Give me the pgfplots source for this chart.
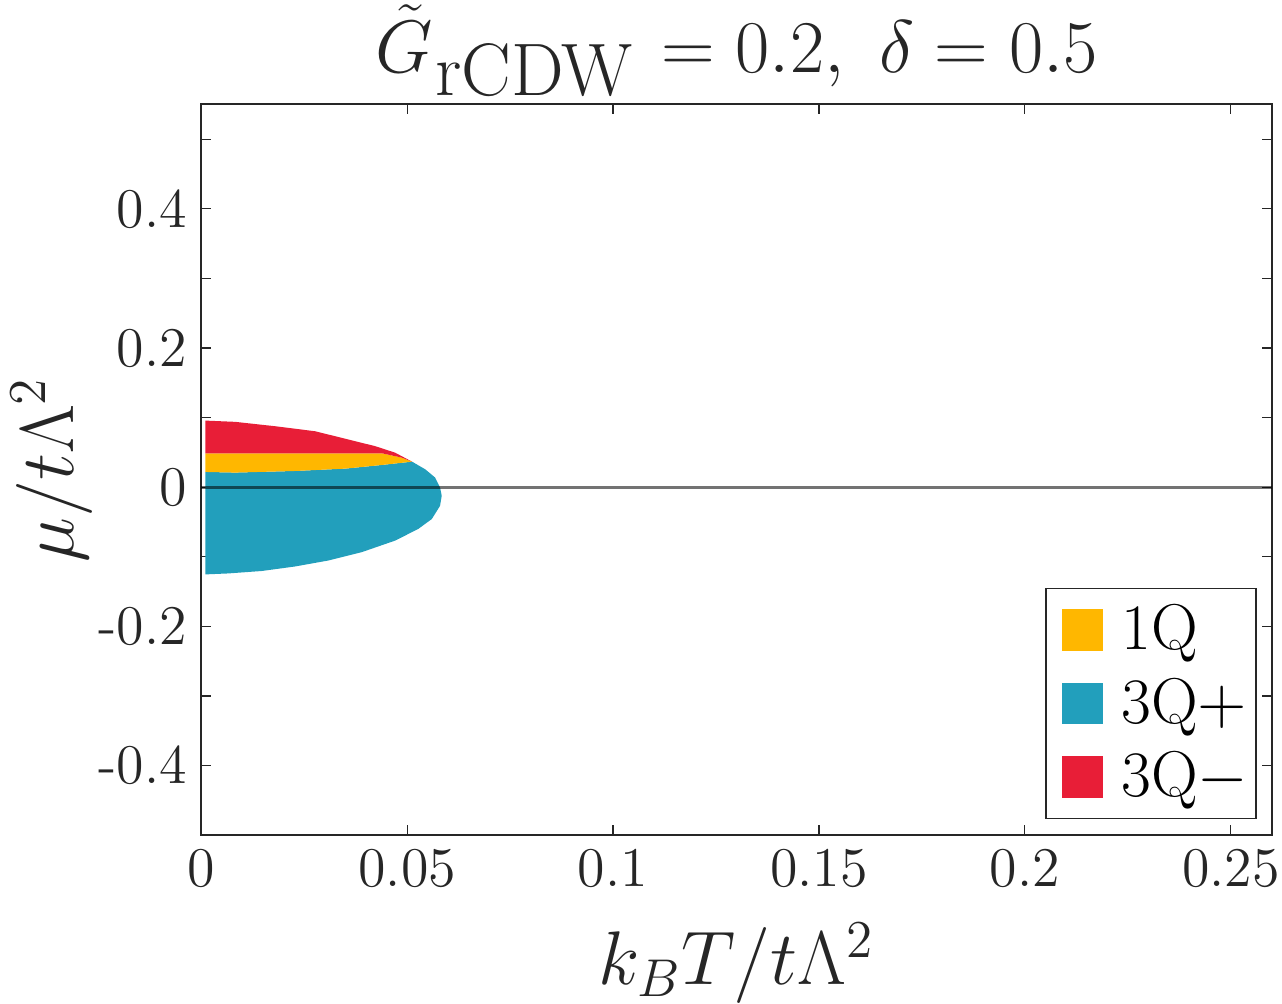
\RequirePackage{fix-cm}
\documentclass[border=0pt]{standalone}
\usepackage{pgfplots}
\pgfplotsset{compat=1.18}
\definecolor{c1q}{RGB}{255,183,0}
\definecolor{c3qp}{RGB}{34,159,188}
\definecolor{c3qm}{RGB}{232,30,55}
\definecolor{axc}{RGB}{38,38,38}
\begin{document}
\begin{tikzpicture}
\useasboundingbox (-50.3pt,-42pt) rectangle (270.2pt,208.8pt);
\begin{axis}[
  at={(0,0)}, anchor=south west,
  scale only axis, width=267.7pt, height=182.7pt,
  xmin=0, xmax=0.26, ymin=-0.5, ymax=0.55,
  xtick={0,0.05,0.1,0.15,0.2,0.25},
  xticklabels={0,0.05,0.1,0.15,0.2,0.25},
  ytick={-0.5,-0.4,-0.3,-0.2,-0.1,0,0.1,0.2,0.3,0.4,0.5},
  yticklabels={,-0.4,,-0.2,,0,,0.2,,0.4,},
  tick align=inside, major tick length=2.5pt,
  tick style={axc, line width=0.3pt},
  axis line style={axc, line width=0.5pt},
  ticklabel style={font=\fontsize{14}{16}\selectfont, text=axc},
  xlabel={$k_BT/t\Lambda^2$}, ylabel={$\mu/t\Lambda^2$},
  label style={font=\fontsize{19}{22}\selectfont, text=axc},
  xlabel style={at={(axis description cs:0.5,0)}, anchor=center, yshift=-32pt},
  ylabel style={at={(axis description cs:0,0.5)}, anchor=center, yshift=37.3pt},
  title={$\tilde{G}$\hspace{0.5pt}\raisebox{-5.75pt}{rCDW}\hspace{2pt}${}=0.2,\ \delta=0.5$},
  title style={font=\fontsize{18.6}{22}\selectfont, text=axc, at={(axis description cs:0.5,1)}, anchor=base, yshift=2pt},
  legend style={at={(1,0)}, anchor=south east, xshift=-3.75pt, yshift=4pt,
    draw=axc, line width=0.4pt, font=\fontsize{16.2}{19}\selectfont,
    row sep=1.5pt, inner xsep=1pt, inner ysep=2pt,
    nodes={inner xsep=1pt}},
  legend cell align=left,
  legend image code/.code={\path (0pt,0pt) (16.5pt,0pt); \fill[#1] (3pt,-5pt) rectangle (13pt,5pt);},
]
\addplot[fill=c3qp, draw=none, forget plot] coordinates {
(0.001,-0.1253)(0.001,0.0219)(0.00825,0.0210)(0.0228,0.0233)(0.0350,0.0267)(0.0430,0.0314)(0.0512,0.0367)
(0.0544,0.0257)(0.0568,0.0139)(0.0580,-0.0004)(0.0584,-0.0124)(0.0580,-0.0267)(0.0560,-0.0457)(0.0527,-0.0600)
(0.0471,-0.0767)(0.0390,-0.0933)(0.0309,-0.1053)(0.0228,-0.1139)(0.0147,-0.1204)(0.0066,-0.1239)(0.001,-0.1253)} -- cycle;
\addplot[fill=c1q, draw=none, forget plot] coordinates {
(0.001,0.0219)(0.001,0.0486)(0.044,0.0486)(0.0487,0.0425)(0.0512,0.0367)(0.0430,0.0314)(0.0350,0.0267)(0.0228,0.0233)(0.00825,0.0210)} -- cycle;
\addplot[fill=c3qm, draw=none, forget plot] coordinates {
(0.001,0.0486)(0.001,0.0957)(0.00825,0.0939)(0.01796,0.0876)(0.02767,0.0804)(0.03568,0.0686)(0.04223,0.0590)
(0.04709,0.0496)(0.0512,0.0367)(0.0487,0.0425)(0.044,0.0486)} -- cycle;
\addplot[black, opacity=0.55, line width=0.7pt, forget plot] coordinates {(0,0)(0.26,0)};
\addlegendimage{c1q}\addlegendentry{1Q}
\addlegendimage{c3qp}\addlegendentry{3Q$+$}
\addlegendimage{c3qm}\addlegendentry{3Q$-$}
\end{axis}
\end{tikzpicture}
\end{document}
